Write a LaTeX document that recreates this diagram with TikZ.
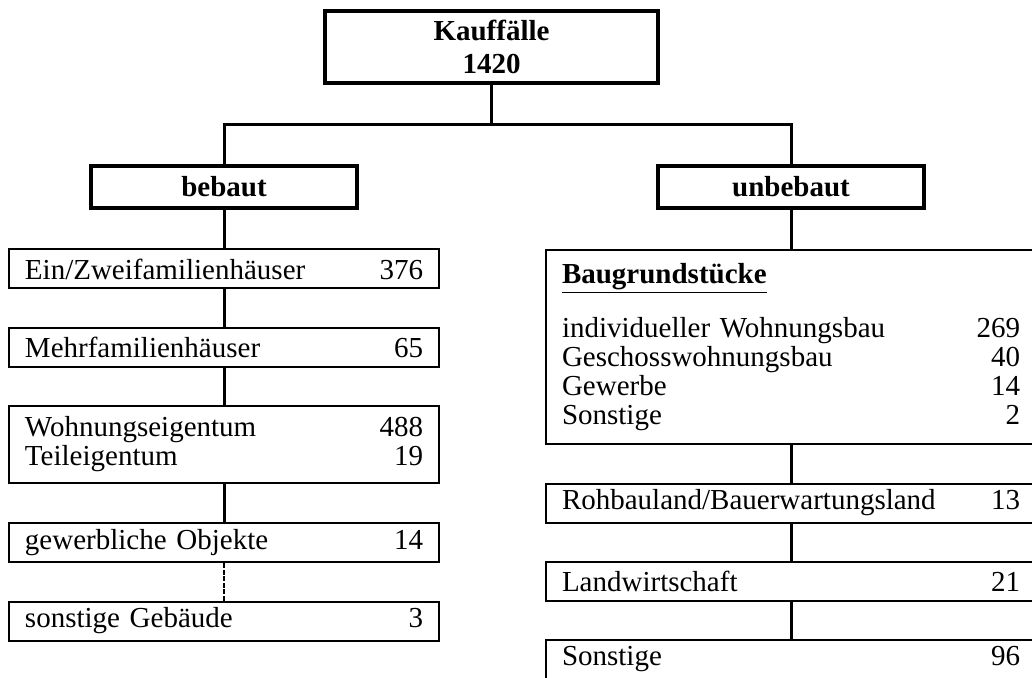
\documentclass[tikz,border=0pt]{standalone}
\usepackage{fontspec}
\setmainfont{Liberation Serif}
\begin{document}
\begin{tikzpicture}[x=0.5pt,y=-0.5pt,
  kopf/.style={draw,line width=2pt,align=center,inner sep=0pt,
    font=\bfseries\fontsize{14.5}{16.5}\selectfont},
  posten/.style={draw,line width=1pt,inner xsep=8pt,inner ysep=0pt,
    minimum height=19.5pt,font=\fontsize{14.5}{14.5}\selectfont},
  links/.style={posten,text width=199pt},
  rechts/.style={posten,text width=229pt},
  verb/.style={line width=1.5pt}]
  \useasboundingbox (0,0) rectangle (1032,678);
  \clip (0,0) rectangle (1032,678);

  % Kopf
  \node[kopf,minimum width=166.5pt,minimum height=36pt] (kauf) at (491.5,47) {Kauffälle\\1420};
  \node[kopf,minimum width=133pt,minimum height=21pt] (bebaut) at (224,187) {bebaut};
  \node[kopf,minimum width=133pt,minimum height=21pt] (unbebaut) at (791,187) {unbebaut};
  \coordinate (split) at (491.5,125);
  \draw[verb] (kauf) -- (split);
  \draw[verb] (bebaut.north) |- (split) -| (unbebaut.north);

  % bebaut
  \node[links] (ein) at (224,269) {Ein/Zweifamilienhäuser\hfill 376};
  \node[links] (mehr) at (224,347.5) {Mehrfamilienhäuser\hfill 65};
  \node[links,minimum height=38.5pt] (wohn) at (224,444.5) {Wohnungseigentum\hfill 488\\Teileigentum\hfill 19};
  \node[links] (gew) at (224,542.5) {gewerbliche Objekte\hfill 14};
  \node[links] (sonst) at (224,621) {sonstige Gebäude\hfill 3};
  \draw[verb] (bebaut) -- (ein);
  \draw[verb] (ein) -- (mehr);
  \draw[verb] (mehr) -- (wohn);
  \draw[verb] (wohn) -- (gew);
  \draw[line width=0.8pt,dash pattern=on 2.5pt off 0.8pt] (gew) -- (sonst);

  % unbebaut
  \node[rechts,minimum height=97pt] (bau) at (791,347) {\underline{\textbf{Baugrundstücke}}\\[10.5pt]
    individueller Wohnungsbau\hfill 269\\
    Geschosswohnungsbau\hfill 40\\
    Gewerbe\hfill 14\\
    Sonstige\hfill 2};
  \node[rechts] (roh) at (791,503) {Rohbauland/Bauerwartungsland\hfill 13};
  \node[rechts] (land) at (791,581.5) {Landwirtschaft\hfill 21};
  \node[rechts] (sonstr) at (791,659.5) {Sonstige\hfill 96};
  \draw[verb] (unbebaut) -- (bau);
  \draw[verb] (bau) -- (roh);
  \draw[verb] (roh) -- (land);
  \draw[verb] (land) -- (sonstr);
\end{tikzpicture}
\end{document}
